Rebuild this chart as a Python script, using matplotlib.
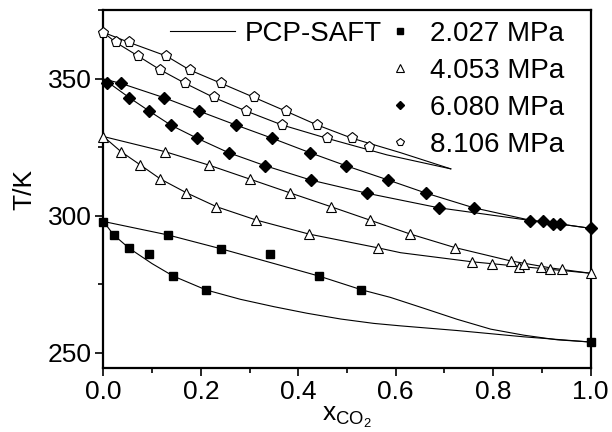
import matplotlib
matplotlib.use("Agg")
import matplotlib.pyplot as plt
from matplotlib.lines import Line2D
from matplotlib.ticker import MultipleLocator

plt.rcParams['font.family'] = ['Liberation Sans', 'DejaVu Sans']
plt.rcParams['mathtext.fontset'] = 'custom'
plt.rcParams['mathtext.rm'] = 'Liberation Sans'
plt.rcParams['mathtext.it'] = 'Liberation Sans'

# ---------------- experimental data ----------------
x_2027 = [0.0, 0.021, 0.053, 0.093, 0.132, 0.143, 0.211, 0.242, 0.342, 0.442, 0.528, 1.0]
T_2027 = [297.9, 293.1, 288.2, 286.1, 293.1, 278.1, 273.0, 288.0, 286.1, 278.1, 273.0, 254.0]

x_4053 = [0.0, 0.036, 0.076, 0.117, 0.126, 0.170, 0.216, 0.232, 0.300, 0.314, 0.382, 0.422, 0.467,
          0.547, 0.563, 0.630, 0.721, 0.757, 0.798, 0.836, 0.853, 0.863, 0.899, 0.917, 0.942, 1.0]
T_4053 = [328.9, 323.5, 318.6, 313.5, 323.5, 308.5, 318.6, 303.4, 313.5, 298.5, 308.5, 293.4, 303.4,
          298.5, 288.4, 293.4, 288.5, 283.3, 282.5, 283.6, 281.3, 282.6, 281.5, 280.5, 280.5, 279.1]

x_6080 = [0.008, 0.036, 0.053, 0.094, 0.124, 0.138, 0.192, 0.196, 0.257, 0.272, 0.331, 0.346, 0.424,
          0.426, 0.497, 0.541, 0.585, 0.663, 0.688, 0.760, 0.875, 0.902, 0.923, 0.938, 1.0]
T_6080 = [348.5, 348.4, 343.2, 338.3, 343.2, 333.2, 328.4, 338.3, 323.1, 333.2, 318.4, 328.4, 323.1,
          313.1, 318.4, 308.3, 313.1, 308.3, 303.0, 303.0, 298.2, 298.2, 297.1, 297.1, 295.5]

x_8106 = [0.0, 0.025, 0.052, 0.071, 0.117, 0.129, 0.168, 0.177, 0.226, 0.242, 0.293, 0.309, 0.367,
          0.374, 0.439, 0.458, 0.510, 0.545]
T_8106 = [366.7, 363.4, 363.4, 358.4, 353.3, 358.4, 348.4, 353.3, 343.3, 348.4, 338.3, 343.3, 333.2,
          338.3, 333.2, 328.4, 328.4, 325.3]

# ---------------- PCP-SAFT curves ----------------
saft_2027_up_x = [0.0, 0.132, 0.242, 0.442, 0.531, 0.589, 0.658, 0.726, 0.795, 0.863, 0.932, 1.0]
saft_2027_up_T = [298.0, 293.1, 288.0, 278.1, 273.0, 270.3, 266.3, 262.3, 258.7, 256.5, 254.8, 254.0]
saft_2027_lo_x = [0.0, 0.021, 0.053, 0.100, 0.143, 0.211, 0.281, 0.350, 0.418, 0.487, 0.555, 0.610,
                  0.726, 0.863, 1.0]
saft_2027_lo_T = [298.0, 293.1, 288.2, 282.6, 278.1, 273.0, 269.6, 266.9, 264.5, 262.4, 260.8, 259.9,
                  258.2, 255.9, 254.0]

saft_4053_up_x = [0.0, 0.126, 0.216, 0.300, 0.382, 0.467, 0.547, 0.630, 0.721, 0.836, 0.920, 1.0]
saft_4053_up_T = [329.0, 323.5, 318.6, 313.5, 308.5, 303.4, 298.5, 293.4, 288.5, 283.6, 281.0, 279.1]
saft_4053_lo_x = [0.0, 0.036, 0.076, 0.117, 0.170, 0.232, 0.314, 0.422, 0.563, 0.610, 0.756, 1.0]
saft_4053_lo_T = [329.0, 323.5, 318.6, 313.5, 308.5, 303.4, 298.5, 293.4, 288.4, 286.6, 283.3, 279.1]

saft_6080_up_x = [0.0, 0.036, 0.124, 0.196, 0.272, 0.346, 0.424, 0.497, 0.585, 0.663, 0.760, 0.875, 0.940, 1.0]
saft_6080_up_T = [350.0, 348.4, 343.2, 338.3, 333.2, 328.4, 323.1, 318.4, 313.1, 308.3, 303.0, 298.5, 297.0, 295.5]
saft_6080_lo_x = [0.0, 0.053, 0.094, 0.138, 0.192, 0.257, 0.331, 0.426, 0.541, 0.688, 0.875, 0.940, 1.0]
saft_6080_lo_T = [350.0, 343.2, 338.3, 333.2, 328.4, 323.1, 318.4, 313.1, 308.3, 303.0, 298.4, 297.0, 295.5]

saft_8106_up_x = [0.0, 0.052, 0.129, 0.177, 0.242, 0.309, 0.374, 0.439, 0.510, 0.610, 0.713]
saft_8106_up_T = [367.0, 363.4, 358.4, 353.3, 348.4, 343.3, 338.3, 333.2, 328.4, 323.1, 317.2]
saft_8106_lo_x = [0.0, 0.025, 0.071, 0.117, 0.168, 0.226, 0.293, 0.367, 0.458, 0.582, 0.713]
saft_8106_lo_T = [367.0, 363.4, 358.4, 353.3, 348.4, 343.3, 338.3, 333.2, 328.4, 322.3, 317.2]

labels = ['2.027 MPa', '4.053 MPa', '6.080 MPa', '8.106 MPa']
xticks = [0.0, 0.2, 0.4, 0.6, 0.8, 1.0]
yticks = [250, 300, 350]

fig = plt.figure(figsize=(6.12, 4.32), dpi=100)
ax = fig.add_axes([0.169, 0.148, 0.796, 0.829])

curves = [(saft_2027_up_x, saft_2027_up_T), (saft_2027_lo_x, saft_2027_lo_T),
          (saft_4053_up_x, saft_4053_up_T), (saft_4053_lo_x, saft_4053_lo_T),
          (saft_6080_up_x, saft_6080_up_T), (saft_6080_lo_x, saft_6080_lo_T),
          (saft_8106_up_x, saft_8106_up_T), (saft_8106_lo_x, saft_8106_lo_T)]
for cx, cT in curves:
    ax.plot(cx, cT, color='black', lw=0.8, zorder=2)

ms_kw = dict(linestyle='none', clip_on=False, zorder=3)
ax.plot(x_2027, T_2027, marker='s', ms=6, mfc='black', mec='black', **ms_kw)
ax.plot(x_4053, T_4053, marker='^', ms=7.5, mfc='white', mec='black', mew=0.8, **ms_kw)
ax.plot(x_6080, T_6080, marker='D', ms=6, mfc='black', mec='black', **ms_kw)
ax.plot(x_8106, T_8106, marker='p', ms=8, mfc='white', mec='black', mew=0.8, **ms_kw)

ax.set_xlim(0, 1.0)
ax.set_ylim(244.5, 375.2)
ax.set_xticks(xticks)
ax.set_xticklabels(['%.1f' % v for v in xticks])
ax.set_yticks(yticks)
ax.xaxis.set_minor_locator(MultipleLocator(0.1))
ax.yaxis.set_minor_locator(MultipleLocator(25))
ax.tick_params(which='major', direction='out', length=5.5, width=1.2, labelsize=19, pad=3)
ax.tick_params(which='minor', direction='out', length=3.5, width=1.2)
for s in ax.spines.values():
    s.set_linewidth(1.6)

ax.set_ylabel('T/K', fontsize=19, labelpad=8)
ax.set_xlabel(r'$\mathregular{x_{CO_2}}$', fontsize=19, labelpad=1)

# legends
h_line = [Line2D([], [], color='black', lw=0.8)]
leg1 = ax.legend(h_line, ['PCP-SAFT'], loc='upper left', bbox_to_anchor=(0.125, 0.985),
                 frameon=False, fontsize=20, handlelength=2.34, handletextpad=0.36,
                 borderaxespad=0, borderpad=0.2)
ax.add_artist(leg1)
h_mk = [Line2D([], [], ls='none', marker='s', ms=6, mfc='black', mec='black'),
        Line2D([], [], ls='none', marker='^', ms=7.5, mfc='white', mec='black', mew=0.8),
        Line2D([], [], ls='none', marker='D', ms=6, mfc='black', mec='black'),
        Line2D([], [], ls='none', marker='p', ms=8, mfc='white', mec='black', mew=0.8)]
ax.legend(h_mk, labels, loc='upper left', bbox_to_anchor=(0.569, 0.985), frameon=False,
          fontsize=20, markerscale=0.75, handlelength=1.0, handletextpad=0.58,
          labelspacing=0.4, borderaxespad=0, borderpad=0.2)

fig.savefig('out.png', dpi=100)
